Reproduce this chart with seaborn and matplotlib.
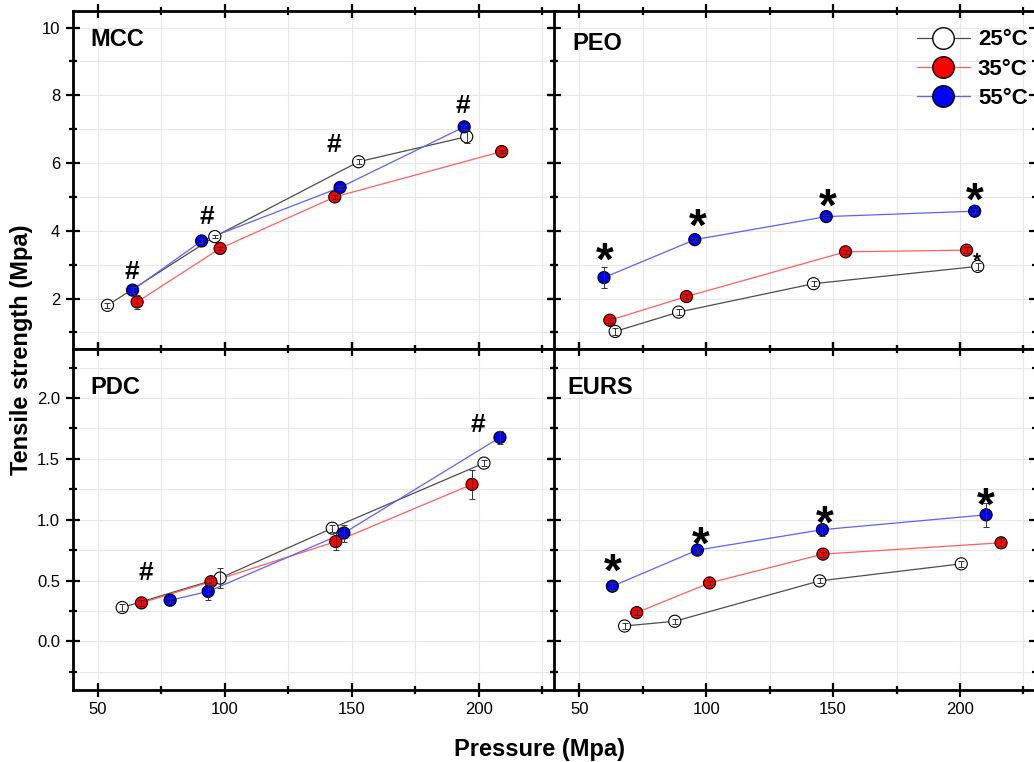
import matplotlib
matplotlib.use("Agg")
import matplotlib.pyplot as plt
import seaborn as sns
import pandas as pd
from matplotlib.lines import Line2D
from matplotlib.ticker import MultipleLocator, FormatStrFormatter

temps = ["25°C", "35°C", "55°C"]

# MCC
mcc_x_25 = [53.7, 96.0, 152.7, 195.3]
mcc_y_25 = [1.80, 3.83, 6.04, 6.78]
mcc_e_25 = [0.08, 0.05, 0.08, 0.20]
mcc_x_35 = [65.4, 98.1, 143.3, 209.1]
mcc_y_35 = [1.90, 3.48, 5.00, 6.34]
mcc_e_35 = [0.20, 0.05, 0.05, 0.05]
mcc_x_55 = [63.6, 90.8, 145.4, 194.3]
mcc_y_55 = [2.25, 3.70, 5.28, 7.07]
mcc_e_55 = [0.08, 0.05, 0.05, 0.05]

# PEO
peo_x_25 = [64.1, 89.1, 142.3, 207.0]
peo_y_25 = [1.03, 1.60, 2.44, 2.95]
peo_e_25 = [0.10, 0.08, 0.08, 0.10]
peo_x_35 = [62.0, 92.2, 154.9, 202.6]
peo_y_35 = [1.36, 2.06, 3.38, 3.43]
peo_e_35 = [0.08, 0.08, 0.05, 0.08]
peo_x_55 = [59.7, 95.5, 147.3, 205.8]
peo_y_55 = [2.62, 3.74, 4.42, 4.58]
peo_e_55 = [0.31, 0.05, 0.05, 0.05]

# PDC
pdc_x_25 = [59.5, 98.1, 142.3, 202.1]
pdc_y_25 = [0.278, 0.52, 0.93, 1.465]
pdc_e_25 = [0.025, 0.08, 0.03, 0.025]
pdc_x_35 = [67.1, 94.5, 143.7, 197.4]
pdc_y_35 = [0.316, 0.49, 0.82, 1.29]
pdc_e_35 = [0.025, 0.03, 0.07, 0.12]
pdc_x_55 = [78.4, 93.4, 146.9, 208.4]
pdc_y_55 = [0.338, 0.41, 0.89, 1.676]
pdc_e_55 = [0.02, 0.07, 0.07, 0.05]

# EURS
eurs_x_25 = [67.8, 87.6, 144.7, 200.5]
eurs_y_25 = [0.126, 0.165, 0.497, 0.637]
eurs_e_25 = [0.025, 0.02, 0.02, 0.025]
eurs_x_35 = [72.6, 101.3, 146.0, 216.2]
eurs_y_35 = [0.236, 0.48, 0.717, 0.81]
eurs_e_35 = [0.02, 0.02, 0.02, 0.04]
eurs_x_55 = [63.0, 96.5, 145.8, 210.3]
eurs_y_55 = [0.453, 0.75, 0.918, 1.04]
eurs_e_55 = [0.03, 0.02, 0.05, 0.10]

# significance marks (symbol centres)
mcc_sig_x = [63.3, 92.8, 142.9, 193.9]
mcc_sig_y = [2.85, 4.47, 6.6, 7.77]
peo_sig_x = [60.1, 96.6, 148.0, 206.0]
peo_sig_y = [3.49, 4.50, 5.09, 5.26]
peo_small_x = [206.8]
peo_small_y = [3.32]
pdc_sig_x = [69.0, 199.5]
pdc_sig_y = [0.58, 1.80]
eurs_sig_x = [63.2, 97.8, 146.7, 210.3]
eurs_sig_y = [0.676, 0.90, 1.07, 1.22]


def make_df(xs, ys, es):
    rows = []
    for t, x, y, e in zip(temps, xs, ys, es):
        for a, b, c in zip(x, y, e):
            rows.append({"temp": t, "pressure": a, "strength": b, "err": c})
    return pd.DataFrame(rows)


panels = {
    "MCC": make_df([mcc_x_25, mcc_x_35, mcc_x_55], [mcc_y_25, mcc_y_35, mcc_y_55],
                   [mcc_e_25, mcc_e_35, mcc_e_55]),
    "PEO": make_df([peo_x_25, peo_x_35, peo_x_55], [peo_y_25, peo_y_35, peo_y_55],
                   [peo_e_25, peo_e_35, peo_e_55]),
    "PDC": make_df([pdc_x_25, pdc_x_35, pdc_x_55], [pdc_y_25, pdc_y_35, pdc_y_55],
                   [pdc_e_25, pdc_e_35, pdc_e_55]),
    "EURS": make_df([eurs_x_25, eurs_x_35, eurs_x_55], [eurs_y_25, eurs_y_35, eurs_y_55],
                    [eurs_e_25, eurs_e_35, eurs_e_55]),
}

line_pal = dict(zip(temps, ["#4d4d4d", "#ff6060", "#6060ff"]))
face_pal = dict(zip(temps, ["#ffffff", "#ff0000", "#0000ff"]))

sns.set_theme(style="white")
plt.rcParams["font.family"] = ["Liberation Sans", "DejaVu Sans"]
plt.rcParams["text.color"] = "black"
plt.rcParams["axes.labelcolor"] = "black"
plt.rcParams["xtick.color"] = "black"
plt.rcParams["ytick.color"] = "black"

fig = plt.figure(figsize=(10.34, 7.62), dpi=100)
W = 0.4662
pos = {
    "MCC": [0.0703, 0.5415, W, 0.4445],
    "PEO": [0.5358, 0.5415, W, 0.4445],
    "PDC": [0.0703, 0.0945, W, 0.4470],
    "EURS": [0.5358, 0.0945, W, 0.4470],
}
axes = {k: fig.add_axes(v) for k, v in pos.items()}

for name, ax in axes.items():
    df = panels[name]
    sns.lineplot(data=df, x="pressure", y="strength", hue="temp", palette=line_pal,
                 sort=False, estimator=None, legend=False, lw=0.9, ax=ax, zorder=2)
    sns.scatterplot(data=df, x="pressure", y="strength", hue="temp", palette=face_pal,
                    edgecolor="black", linewidth=0.8, s=76, legend=False, ax=ax, zorder=3)
    ax.errorbar(df["pressure"], df["strength"], yerr=df["err"], fmt="none",
                ecolor="#333333", elinewidth=0.7, capsize=2.5, capthick=0.7, zorder=4)
    ax.set_xlabel("")
    ax.set_ylabel("")
    ax.set_xlim(40, 230)
    ax.xaxis.set_major_locator(MultipleLocator(50))
    ax.xaxis.set_minor_locator(MultipleLocator(25))
    if name in ("MCC", "PEO"):
        ax.set_ylim(0.5, 10.5)
        ax.yaxis.set_major_locator(MultipleLocator(2))
        ax.yaxis.set_minor_locator(MultipleLocator(1))
    else:
        ax.set_ylim(-0.4, 2.4)
        ax.yaxis.set_major_locator(MultipleLocator(0.5))
        ax.yaxis.set_minor_locator(MultipleLocator(0.25))
        ax.yaxis.set_major_formatter(FormatStrFormatter("%.1f"))
    ax.grid(True, which="both", color="#e8e8e8", lw=0.8, zorder=0)
    ax.set_axisbelow(True)
    for sp in ax.spines.values():
        sp.set_linewidth(2.0)
        sp.set_color("black")
    ax.tick_params(which="both", direction="inout", top=True, right=True,
                   bottom=True, left=True, width=1.6, color="black")
    ax.tick_params(which="major", length=10, labelsize=12, pad=4, labelcolor="black")
    ax.tick_params(which="minor", length=6)
    ax.tick_params(labelbottom=name in ("PDC", "EURS"), labelleft=name in ("MCC", "PDC"))

label_pos = {"MCC": (0.036, 0.896), "PEO": (0.039, 0.884), "PDC": (0.036, 0.870), "EURS": (0.028, 0.870)}
for name, (lx, ly) in label_pos.items():
    axes[name].text(lx, ly, name, transform=axes[name].transAxes, fontsize=17,
                    fontweight="bold", ha="left", va="baseline", zorder=6)


def marks(ax, xs, ys, sym, fs, frac):
    # frac: glyph centre height above baseline, in em
    for x, y in zip(xs, ys):
        ax.annotate(sym, xy=(x, y), xytext=(0, -frac * fs), textcoords="offset points",
                    ha="center", va="baseline", fontsize=fs, fontweight="bold", zorder=6)


marks(axes["MCC"], mcc_sig_x, mcc_sig_y, "#", 19, 0.36)
marks(axes["PDC"], pdc_sig_x, pdc_sig_y, "#", 19, 0.36)
marks(axes["PEO"], peo_sig_x, peo_sig_y, "*", 33, 0.58)
marks(axes["EURS"], eurs_sig_x, eurs_sig_y, "*", 33, 0.58)
marks(axes["PEO"], peo_small_x, peo_small_y, "*", 15, 0.58)

handles = [Line2D([0], [0], color=line_pal[t], lw=0.9, marker="o", markersize=15.5,
                  markerfacecolor=face_pal[t], markeredgecolor="black", markeredgewidth=1.0)
           for t in temps]
axes["PEO"].legend(handles, temps, loc="upper left", bbox_to_anchor=(0.7525, 0.945),
                   frameon=False, borderpad=0, borderaxespad=0, handlelength=2.4,
                   handletextpad=0.35, labelspacing=0.38, prop={"size": 16, "weight": "bold"})

fig.text(0.021, 0.541, "Tensile strength (Mpa)", rotation=90, ha="center", va="center",
         fontsize=17, fontweight="bold")
fig.text(0.522, 0.017, "Pressure (Mpa)", ha="center", va="center",
         fontsize=17, fontweight="bold")

fig.savefig("out.png", dpi=100)
